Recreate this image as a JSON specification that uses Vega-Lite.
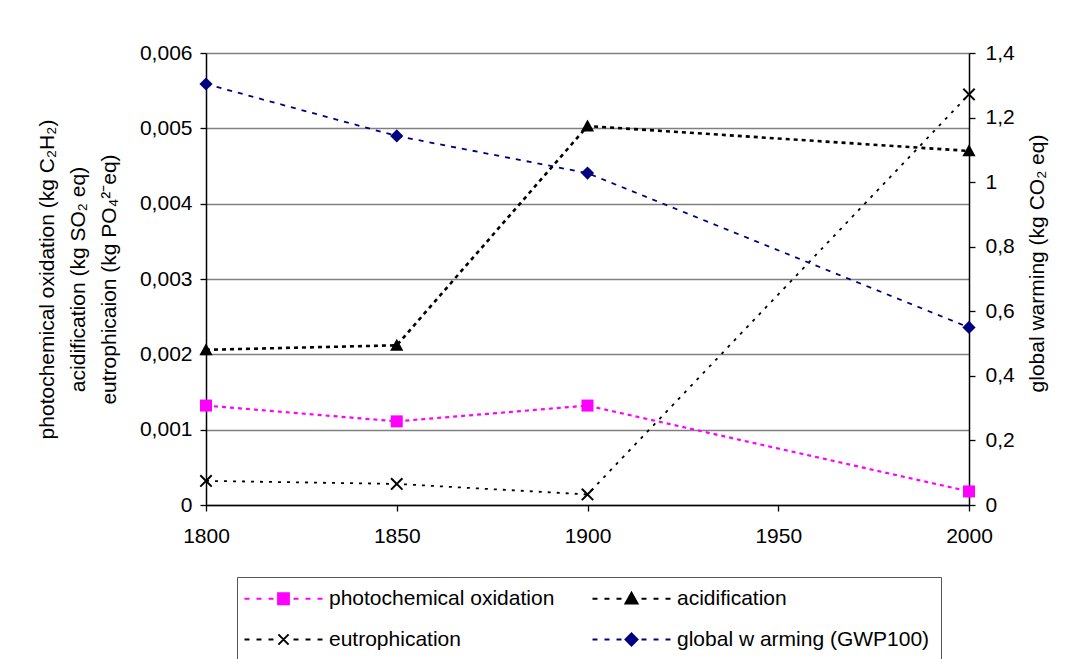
{
  "$schema": "https://vega.github.io/schema/vega-lite/v6.json",
  "width": 763,
  "height": 452,
  "autosize": {"type": "none"},
  "padding": {"left": 206, "top": 53, "right": 99, "bottom": 154},
  "background": "white",
  "config": {
    "font": "Liberation Sans",
    "view": {"stroke": null},
    "axis": {
      "labelFont": "Liberation Sans",
      "labelFontSize": 21,
      "labelColor": "#000000",
      "titleFont": "Liberation Sans",
      "titleFontSize": 21,
      "titleFontWeight": "normal",
      "titleColor": "#000000",
      "domainColor": "#000000",
      "domainWidth": 1.5,
      "tickColor": "#000000",
      "tickWidth": 1.3,
      "tickSize": 6
    }
  },
  "datasets": {
    "left": [
      {"year": 1800, "series": "photochemical oxidation", "value": 0.00132},
      {"year": 1850, "series": "photochemical oxidation", "value": 0.00111},
      {"year": 1900, "series": "photochemical oxidation", "value": 0.00132},
      {"year": 2000, "series": "photochemical oxidation", "value": 0.00018},
      {"year": 1800, "series": "acidification", "value": 0.00206},
      {"year": 1850, "series": "acidification", "value": 0.00212},
      {"year": 1900, "series": "acidification", "value": 0.00503},
      {"year": 2000, "series": "acidification", "value": 0.0047},
      {"year": 1800, "series": "eutrophication", "value": 0.00032},
      {"year": 1850, "series": "eutrophication", "value": 0.00028},
      {"year": 1900, "series": "eutrophication", "value": 0.00014},
      {"year": 2000, "series": "eutrophication", "value": 0.00545}
    ],
    "gwp": [
      {"year": 1800, "series": "global w arming (GWP100)", "value": 1.304},
      {"year": 1850, "series": "global w arming (GWP100)", "value": 1.143},
      {"year": 1900, "series": "global w arming (GWP100)", "value": 1.028},
      {"year": 2000, "series": "global w arming (GWP100)", "value": 0.55}
    ]
  },
  "encoding": {
    "x": {
      "field": "year",
      "type": "quantitative",
      "scale": {"domain": [1800, 2000], "nice": false, "zero": false},
      "axis": {
        "values": [1800, 1850, 1900, 1950, 2000],
        "format": "d",
        "grid": false,
        "title": null,
        "labelPadding": 14,
        "labelFlush": false
      }
    }
  },
  "layer": [
    {
      "data": {"name": "left"},
      "encoding": {
        "y": {
          "field": "value",
          "type": "quantitative",
          "scale": {"domain": [0, 0.006], "nice": false},
          "axis": {
            "orient": "left",
            "values": [0, 0.001, 0.002, 0.003, 0.004, 0.005, 0.006],
            "labelExpr": "replace(format(datum.value, '~g'), '.', ',')",
            "grid": true,
            "gridColor": "#808080",
            "gridWidth": 1.3,
            "labelPadding": 8,
            "title": ["photochemical oxidation (kg C₂H₂)", "acidification (kg SO₂ eq)", "eutrophicaion (kg PO₄²⁻eq)"],
            "titleLineHeight": 31,
            "titlePadding": 20
          }
        }
      },
      "layer": [
        {
          "transform": [{"filter": "datum.series == 'photochemical oxidation'"}],
          "mark": {"type": "line", "color": "#FF00FF", "strokeWidth": 2.2, "strokeDash": [4, 4], "strokeCap": "butt"}
        },
        {
          "transform": [{"filter": "datum.series == 'acidification'"}],
          "mark": {"type": "line", "color": "#000000", "strokeWidth": 2.6, "strokeDash": [4, 4], "strokeCap": "butt"}
        },
        {
          "transform": [{"filter": "datum.series == 'eutrophication'"}],
          "mark": {"type": "line", "color": "#000000", "strokeWidth": 1.8, "strokeDash": [3, 6], "strokeCap": "butt"}
        },
        {
          "transform": [{"filter": "datum.series == 'photochemical oxidation'"}],
          "mark": {"type": "point", "filled": true, "opacity": 1, "color": "#FF00FF", "size": 144, "shape": "M-1,-1H1V1H-1Z"}
        },
        {
          "transform": [{"filter": "datum.series == 'acidification'"}],
          "mark": {"type": "point", "filled": true, "opacity": 1, "color": "#000000", "size": 144, "shape": "M0,-1.1L1.1,0.9H-1.1Z"}
        },
        {
          "transform": [{"filter": "datum.series == 'eutrophication'"}],
          "mark": {"type": "point", "filled": false, "opacity": 1, "color": "#000000", "strokeWidth": 2, "size": 144, "shape": "M-0.95,-0.95L0.95,0.95M-0.95,0.95L0.95,-0.95"}
        }
      ]
    },
    {
      "data": {"name": "gwp"},
      "encoding": {
        "y": {
          "field": "value",
          "type": "quantitative",
          "scale": {"domain": [0, 1.4], "nice": false},
          "axis": {
            "orient": "right",
            "values": [0, 0.2, 0.4, 0.6, 0.8, 1, 1.2, 1.4],
            "labelExpr": "replace(format(datum.value, '~g'), '.', ',')",
            "grid": false,
            "labelPadding": 10,
            "title": "global warming (kg CO₂ eq)",
            "titleAngle": 270,
            "titleBaseline": "top",
            "titlePadding": 12,
            "titleY": 210
          }
        }
      },
      "layer": [
        {
          "mark": {"type": "line", "color": "#000080", "strokeWidth": 1.8, "strokeDash": [5, 6], "strokeCap": "butt"}
        },
        {
          "mark": {"type": "point", "filled": true, "opacity": 1, "color": "#000080", "size": 144, "shape": "M0,-1.1L1.1,0L0,1.1L-1.1,0Z"}
        },
        {
          "transform": [{"filter": "datum.year < 0"}],
          "mark": {"type": "point", "opacity": 1},
          "encoding": {
            "fill": {
              "field": "series",
              "type": "nominal",
              "scale": {
                "domain": ["photochemical oxidation", "eutrophication", "acidification", "global w arming (GWP100)"],
                "range": ["#FF00FF", "#000000", "#000000", "#000080"]
              },
              "legend": {
                "title": null,
                "orient": "none",
                "legendX": 31,
                "legendY": 524,
                "columns": 2,
                "padding": 11,
                "strokeColor": "#555555",
                "fillColor": "#FFFFFF",
                "labelFont": "Liberation Sans",
                "labelFontSize": 21,
                "labelColor": "#000000",
                "labelLimit": 0,
                "symbolSize": 144,
                "symbolStrokeWidth": 2,
                "symbolOpacity": 1,
                "symbolOffset": 25,
                "labelOffset": 35,
                "rowPadding": 19,
                "columnPadding": 33
              }
            },
            "stroke": {
              "field": "series",
              "type": "nominal",
              "scale": {
                "domain": ["photochemical oxidation", "eutrophication", "acidification", "global w arming (GWP100)"],
                "range": ["#FF00FF", "#000000", "#000000", "#000080"]
              },
              "legend": {"title": null}
            },
            "shape": {
              "field": "series",
              "type": "nominal",
              "scale": {
                "domain": ["photochemical oxidation", "eutrophication", "acidification", "global w arming (GWP100)"],
                "range": [
                  "M-6.5,0H-5.67M-4.5,0H-3.67M-2.5,0H-1.67M1.67,0H2.5M3.67,0H4.5M5.67,0H6.5M-0.9,-0.9H0.9V0.9H-0.9Z",
                  "M-6.5,0H-5.67M-4.5,0H-3.67M-2.5,0H-1.67M1.67,0H2.5M3.67,0H4.5M5.67,0H6.5M-0.85,-0.85L0.85,0.85M-0.85,0.85L0.85,-0.85",
                  "M-6.5,0H-5.67M-4.5,0H-3.67M-2.5,0H-1.67M1.67,0H2.5M3.67,0H4.5M5.67,0H6.5M0,-1L1,0.8H-1Z",
                  "M-6.5,0H-5.67M-4.5,0H-3.67M-2.5,0H-1.67M1.67,0H2.5M3.67,0H4.5M5.67,0H6.5M0,-1L1,0L0,1L-1,0Z"
                ]
              },
              "legend": {"title": null}
            }
          }
        }
      ]
    }
  ],
  "resolve": {"scale": {"y": "independent"}}
}
